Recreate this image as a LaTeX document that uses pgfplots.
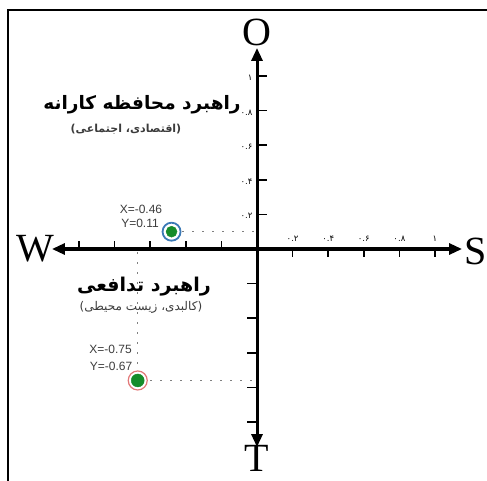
\documentclass[border=0pt]{standalone}
\usepackage{fontspec}
\setmainfont{Liberation Sans}
\newfontfamily\serif{Liberation Serif}
\newfontfamily\arabicfont[Script=Arabic]{DejaVu Sans}
\TeXXeTstate=1
\usepackage{pgfplots}
\pgfplotsset{compat=1.18}
\usetikzlibrary{arrows.meta}
\definecolor{ptgreen}{RGB}{22,140,42}
\definecolor{ringblue}{RGB}{60,122,182}
\definecolor{ringred}{RGB}{226,120,120}
\definecolor{lblgray}{RGB}{60,60,60}

% 1 px of the reference = 1 pt; origin at (257,249) px
\begin{document}
\begin{tikzpicture}[
  xlbl/.style={font=\arabicfont\fontsize{8.5}{9}\selectfont, anchor=south, inner sep=0pt},
  ylbl/.style={font=\arabicfont\fontsize{8.5}{9}\selectfont, anchor=east, inner sep=0pt},
  ptlbl/.style={font=\fontsize{12}{14}\selectfont, text=lblgray},
  dir/.style={font=\serif\fontsize{40}{44}\selectfont, inner sep=0pt},
  guide/.style={gray, line width=1.5pt, dash pattern=on 1.5pt off 8.5pt},
]
\begin{axis}[
  width=410pt, height=399pt, scale only axis,
  xmin=-1.152, xmax=1.152, ymin=-1.145, ymax=1.162,
  axis lines=middle,
  axis line style={line width=3pt,
    {Triangle[length=13pt,width=11pt]}-{Triangle[length=13pt,width=11pt]}},
  xtick=\empty, ytick=\empty,
  clip=false,
]
% ticks
\pgfplotsinvokeforeach{0.2,0.4,0.6,0.8,1}{
  \draw[line width=1.5pt] (axis cs:#1,0) -- ++(0pt,-8pt);
  \draw[line width=1.5pt] (axis cs:-#1,0) -- ++(0pt,8pt);
  \draw[line width=1.5pt] (axis cs:0,#1) -- ++(10pt,0pt);
  \draw[line width=1.5pt] (axis cs:0,-#1) -- ++(-10pt,0pt);
}
\node[xlbl] at (axis cs:0.2,0.04) {۰.۲};
\node[xlbl] at (axis cs:0.4,0.04) {۰.۴};
\node[xlbl] at (axis cs:0.6,0.04) {۰.۶};
\node[xlbl] at (axis cs:0.8,0.04) {۰.۸};
\node[xlbl] at (axis cs:1,0.04) {۱};
\node[ylbl] at (axis cs:-0.025,0.19) {۰.۲};
\node[ylbl] at (axis cs:-0.025,0.39) {۰.۴};
\node[ylbl] at (axis cs:-0.025,0.59) {۰.۶};
\node[ylbl] at (axis cs:-0.025,0.79) {۰.۸};
\node[ylbl] at (axis cs:-0.025,0.99) {۱};

% dotted guides
\addplot[guide] coordinates {(-0.42,0.10) (0,0.10)};
\addplot[guide] coordinates {(-0.60,-0.76) (0,-0.76)};
\addplot[guide] coordinates {(-0.67,-0.02) (-0.67,-0.70)};

% points
\addplot[only marks, mark=o, mark size=9pt, ringblue, line width=1.8pt]
  coordinates {(-0.48,0.10)};
\addplot[only marks, mark=*, mark size=5.5pt, ptgreen, mark options={draw=ptgreen}]
  coordinates {(-0.48,0.10)};
\addplot[only marks, mark=o, mark size=9.5pt, ringred, line width=1.2pt]
  coordinates {(-0.67,-0.76)};
\addplot[only marks, mark=*, mark size=6.5pt, ptgreen, mark options={draw=ptgreen}]
  coordinates {(-0.67,-0.76)};

% point labels
\node[ptlbl] at (axis cs:-0.652,0.231) {X=-0.46};
\node[ptlbl] at (axis cs:-0.657,0.150) {Y=0.11};
\node[ptlbl] at (axis cs:-0.823,-0.578) {X=-0.75};
\node[ptlbl] at (axis cs:-0.820,-0.676) {Y=-0.67};

% strategy texts
\node[font=\arabicfont\bfseries\fontsize{18.5}{22}\selectfont] at (axis cs:-0.646,0.832)
  {\beginR راهبرد محافظه کارانه\endR};
\node[font=\arabicfont\bfseries\fontsize{11}{13}\selectfont, text=lblgray] at (axis cs:-0.736,0.694)
  {\beginR (اقتصادی، اجتماعی)\endR};
\node[font=\arabicfont\bfseries\fontsize{19}{22}\selectfont] at (axis cs:-0.635,-0.220)
  {\beginR راهبرد تدافعی\endR};
\node[font=\arabicfont\fontsize{12}{14}\selectfont, text=lblgray] at (axis cs:-0.652,-0.335)
  {\beginR (کالبدی، زیست محیطی)\endR};

% direction letters
\node[dir] at (axis cs:0,1.254) {O};
\node[dir] at (axis cs:-1.247,0) {W};
\node[dir] at (axis cs:1.230,-0.012) {S};
\node[dir] at (axis cs:0,-1.212) {T};

% frame (left and top) and page corners
\draw[line width=2pt] (axis cs:-1.3989,-1.341) -- (axis cs:-1.3989,1.3815) -- (axis cs:1.2921,1.3815);
\coordinate (bl) at (axis cs:-1.4438,-1.341);
\coordinate (tr) at (axis cs:1.2921,1.4393);
\end{axis}
\pgfresetboundingbox
\path[use as bounding box] (bl) rectangle (tr);
\end{tikzpicture}
\end{document}
